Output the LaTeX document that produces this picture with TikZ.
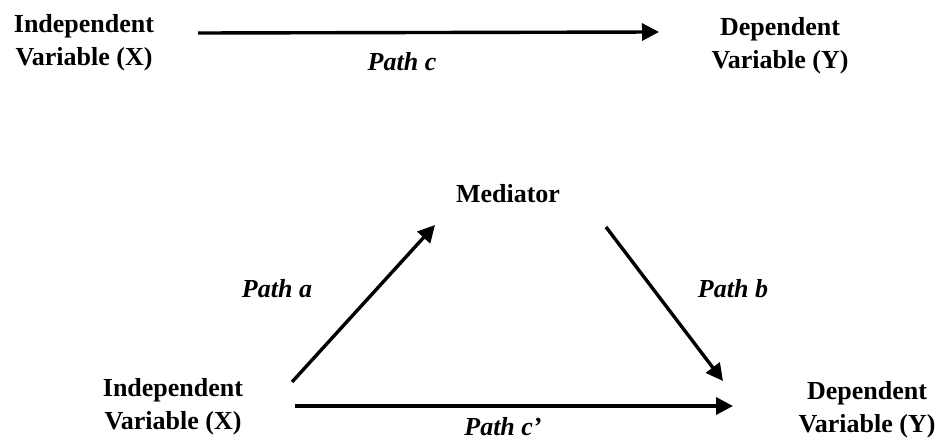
\documentclass[tikz,border=0pt]{standalone}
\usepackage{fontspec}
\setmainfont{Liberation Serif}
\usetikzlibrary{arrows.meta,calc}
\tikzset{
  lbl/.style={inner sep=0pt, font=\fontsize{26}{33}\selectfont\bfseries},
  blk/.style={lbl, align=center, anchor=north},
  pathlbl/.style={inner sep=0pt, anchor=base, font=\fontsize{26}{33}\selectfont\bfseries\itshape},
  arr/.style={line width=3.4pt, -{Triangle[length=17pt,width=17pt]}}
}
\begin{document}
\begin{tikzpicture}[x=1pt,y=-1pt]
\useasboundingbox (0,0) rectangle (942,439);
% top model
\node[blk] (ivt) at (84,14) {Independent\\Variable (X)};
\node[blk] (dvt) at (780,17) {Dependent\\Variable (Y)};
\node[pathlbl] (pc) at (402,70) {Path c};
\draw[arr] ($(ivt.north)+(114,19)$) -- ($(dvt.north)+(-121,15)$);
% mediation model
\node[blk] (ivb) at (173,378) {Independent\\Variable (X)};
\node[lbl, anchor=base] (med) at (508,202) {Mediator};
\node[blk] (dvb) at (867,381) {Dependent\\Variable (Y)};
\node[pathlbl] (pa) at (277,297) {Path a};
\node[pathlbl] (pb) at (733,297) {Path b};
\node[pathlbl] (pcp) at (503,435) {Path c’};
\draw[arr] ($(ivb.north)+(119,4)$) -- ($(med.base)+(-73,23)$);
\draw[arr] ($(med.base)+(98,25)$) -- ($(dvb.north)+(-144,0)$);
\draw[arr] ($(ivb.north)+(122,28)$) -- ($(dvb.north)+(-134,25)$);
\end{tikzpicture}
\end{document}
